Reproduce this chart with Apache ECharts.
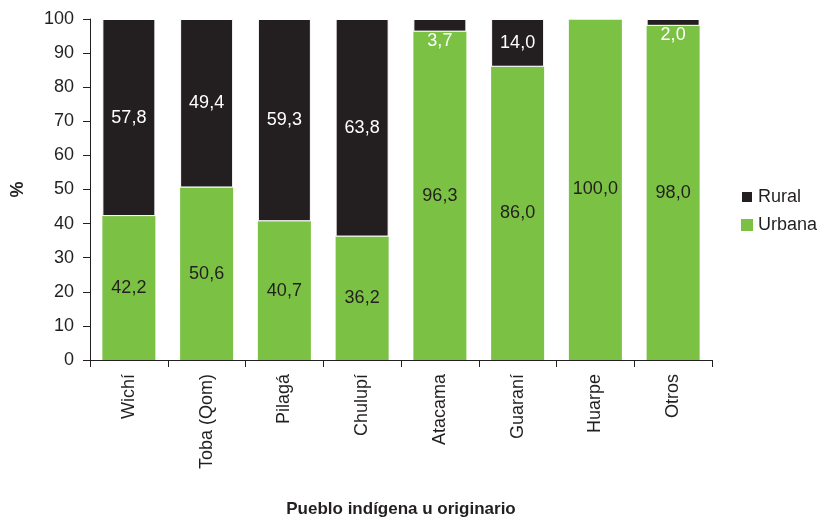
<!DOCTYPE html>
<html>
<head>
<meta charset="utf-8">
<script src="https://cdn.jsdelivr.net/npm/echarts@6/dist/echarts.min.js"></script>
<style>html,body{margin:0;padding:0;background:#fff}#c{width:820px;height:517px}</style>
</head>
<body>
<div id="c"></div>
<script>
var categories = ['Wichí', 'Toba (Qom)', 'Pilagá', 'Chulupí', 'Atacama', 'Guaraní', 'Huarpe', 'Otros'];
var urbana = [42.2, 50.6, 40.7, 36.2, 96.3, 86.0, 100.0, 98.0];
var rural = [57.8, 49.4, 59.3, 63.8, 3.7, 14.0, 0, 2.0];
var yTicks = [0, 10, 20, 30, 40, 50, 60, 70, 80, 90, 100];

var GREEN = '#7bc143', BLACK = '#231f20', FONT = 'Liberation Sans';
function fmt(v) { return v.toFixed(1).replace('.', ','); }

var ruralData = rural.map(function (v) {
  if (v === 0) return { value: v, label: { show: false } };
  if (v < 5) return { value: v, label: { position: 'bottom', distance: 0 } };
  return v;
});

var chart = echarts.init(document.getElementById('c'), null, { renderer: 'canvas' });
chart.setOption({
  animation: false,
  textStyle: { fontFamily: FONT },
  grid: { left: 90, right: 108, top: 19, bottom: 157, containLabel: false, outerBoundsMode: 'none' },
  legend: {
    orient: 'vertical', left: 740, top: 188, itemWidth: 12, itemHeight: 12, itemGap: 10, padding: 0,
    data: ['Rural', 'Urbana'], icon: 'rect',
    textStyle: { fontSize: 18, color: BLACK, fontFamily: FONT }
  },
  xAxis: {
    type: 'category', data: categories,
    name: 'Pueblo indígena u originario', nameLocation: 'middle', nameGap: 141,
    nameTextStyle: { fontSize: 17, fontWeight: 'bold', color: BLACK, fontFamily: FONT },
    axisLine: { lineStyle: { color: BLACK, width: 1 } },
    axisTick: { show: true, length: 7, lineStyle: { color: BLACK } },
    axisLabel: { rotate: 90, fontSize: 18, color: BLACK, margin: 14, fontFamily: FONT }
  },
  yAxis: {
    type: 'value', min: yTicks[0], max: yTicks[yTicks.length - 1], interval: 10,
    name: '%', nameLocation: 'middle', nameGap: 63, nameRotate: 90,
    nameTextStyle: { fontSize: 18, fontWeight: 'bold', color: BLACK, fontFamily: FONT },
    axisLine: { show: true, lineStyle: { color: BLACK, width: 1 } },
    axisTick: { show: true, length: 7, lineStyle: { color: BLACK } },
    axisLabel: { fontSize: 18, color: BLACK, margin: 16, fontFamily: FONT },
    splitLine: { show: false }
  },
  series: [
    {
      name: 'Urbana', type: 'bar', stack: 't', data: urbana, barWidth: 53,
      itemStyle: { color: GREEN },
      label: { show: true, position: 'inside', fontSize: 18, color: BLACK, fontFamily: FONT,
        formatter: function (p) { return fmt(p.value); } }
    },
    {
      name: 'Rural', type: 'bar', stack: 't', data: ruralData, barWidth: 53,
      itemStyle: { color: BLACK, borderColor: '#ffffff', borderWidth: 1 },
      label: { show: true, position: 'inside', fontSize: 18, color: '#ffffff', fontFamily: FONT,
        formatter: function (p) { return fmt(p.value); } }
    }
  ]
});
</script>
</body>
</html>
